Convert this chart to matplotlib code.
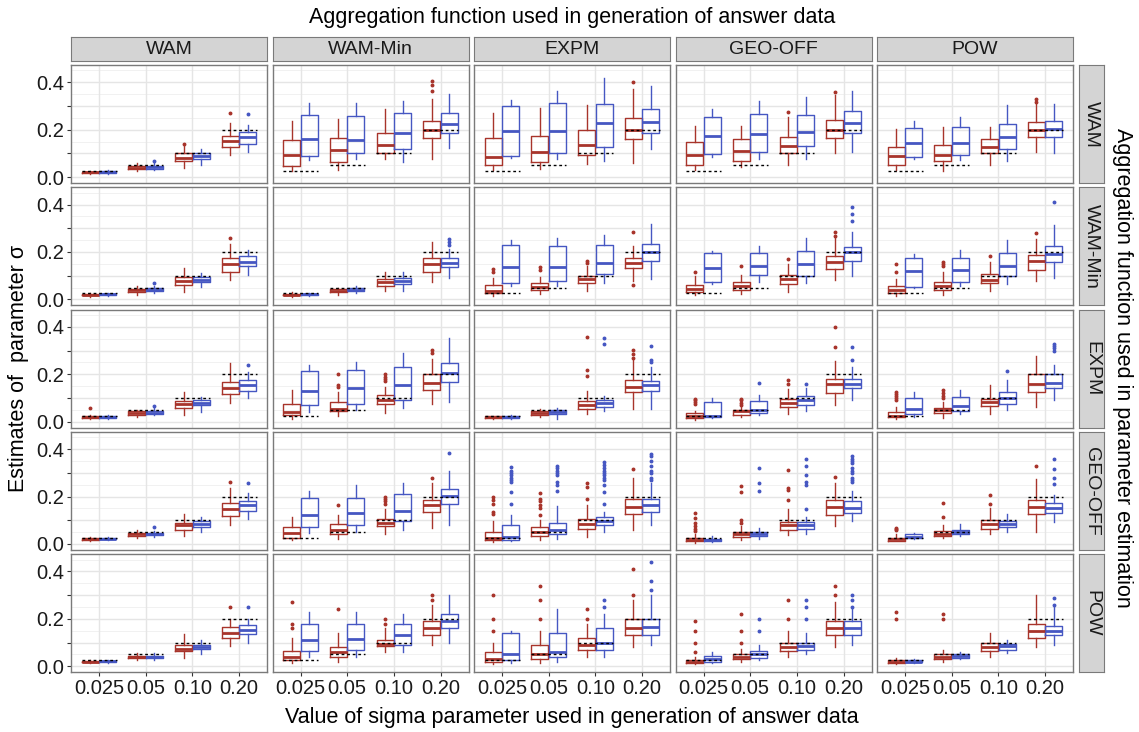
import matplotlib
matplotlib.use("Agg")
import matplotlib.pyplot as plt

plt.rcParams['font.family'] = ['Liberation Sans', 'DejaVu Sans']

GEN_FUNCS = ["WAM", "WAM-Min", "EXPM", "GEO-OFF", "POW"]
EST_FUNCS = ["WAM", "WAM-Min", "EXPM", "GEO-OFF", "POW"]
SIGMA_LABELS = ["0.025", "0.05", "0.10", "0.20"]
SIGMA_TRUE = [0.025, 0.05, 0.10, 0.20]
Y_TICKS = [0.0, 0.1, 0.2, 0.3, 0.4]
Y_TICK_LABELS = ["0.0", "", "0.2", "", "0.4"]

# box stats per estimation row: [gen col][sigma group] = [whislo, q1, med, q3, whishi]
RED_WAM = [
    [[0.013, 0.017, 0.020, 0.023, 0.027], [0.025, 0.035, 0.040, 0.047, 0.058], [0.037, 0.068, 0.082, 0.100, 0.130], [0.093, 0.125, 0.153, 0.173, 0.230]],
    [[0.025, 0.046, 0.093, 0.156, 0.237], [0.030, 0.065, 0.113, 0.163, 0.244], [0.075, 0.103, 0.135, 0.187, 0.286], [0.075, 0.163, 0.200, 0.238, 0.328]],
    [[0.030, 0.051, 0.085, 0.163, 0.272], [0.032, 0.062, 0.106, 0.175, 0.290], [0.054, 0.092, 0.134, 0.197, 0.304], [0.060, 0.162, 0.200, 0.251, 0.370]],
    [[0.030, 0.051, 0.093, 0.149, 0.217], [0.041, 0.069, 0.111, 0.159, 0.215], [0.049, 0.100, 0.131, 0.168, 0.255], [0.100, 0.163, 0.199, 0.239, 0.346]],
    [[0.030, 0.051, 0.089, 0.128, 0.201], [0.027, 0.068, 0.092, 0.134, 0.210], [0.049, 0.100, 0.125, 0.159, 0.213], [0.107, 0.170, 0.199, 0.231, 0.311]],
]
BLUE_WAM = [
    [[0.015, 0.018, 0.021, 0.024, 0.028], [0.028, 0.035, 0.041, 0.047, 0.060], [0.050, 0.075, 0.088, 0.100, 0.120], [0.104, 0.139, 0.168, 0.189, 0.220]],
    [[0.072, 0.089, 0.160, 0.262, 0.311], [0.075, 0.100, 0.155, 0.258, 0.311], [0.065, 0.117, 0.185, 0.269, 0.323], [0.121, 0.185, 0.224, 0.272, 0.351]],
    [[0.079, 0.090, 0.196, 0.300, 0.325], [0.076, 0.100, 0.196, 0.311, 0.363], [0.069, 0.125, 0.228, 0.308, 0.417], [0.117, 0.186, 0.234, 0.289, 0.385]],
    [[0.083, 0.096, 0.173, 0.255, 0.286], [0.077, 0.104, 0.180, 0.266, 0.320], [0.077, 0.132, 0.189, 0.262, 0.340], [0.104, 0.187, 0.228, 0.279, 0.363]],
    [[0.075, 0.083, 0.145, 0.206, 0.237], [0.072, 0.093, 0.142, 0.213, 0.252], [0.068, 0.117, 0.170, 0.223, 0.304], [0.103, 0.169, 0.203, 0.235, 0.307]],
]
OUT_RED_WAM = {(0, 2): [0.14], (0, 3): [0.27], (1, 3): [0.365, 0.387, 0.404], (2, 3): [0.403],
               (3, 2): [0.273], (3, 3): [0.358], (4, 3): [0.318, 0.328]}
OUT_BLUE_WAM = {(0, 1): [0.068], (0, 3): [0.266]}

RED_WAMMIN = [
    [[0.012, 0.017, 0.020, 0.023, 0.027], [0.020, 0.032, 0.038, 0.045, 0.055], [0.030, 0.061, 0.077, 0.093, 0.131], [0.082, 0.114, 0.148, 0.173, 0.234]],
    [[0.010, 0.017, 0.020, 0.023, 0.030], [0.018, 0.030, 0.037, 0.043, 0.050], [0.034, 0.058, 0.075, 0.086, 0.114], [0.072, 0.117, 0.148, 0.173, 0.241]],
    [[0.015, 0.027, 0.037, 0.061, 0.089], [0.023, 0.041, 0.051, 0.069, 0.093], [0.037, 0.069, 0.086, 0.100, 0.142], [0.079, 0.131, 0.154, 0.176, 0.227]],
    [[0.018, 0.030, 0.044, 0.061, 0.100], [0.023, 0.041, 0.058, 0.075, 0.103], [0.032, 0.065, 0.086, 0.104, 0.149], [0.082, 0.128, 0.159, 0.185, 0.262]],
    [[0.015, 0.027, 0.041, 0.058, 0.086], [0.020, 0.041, 0.058, 0.072, 0.114], [0.037, 0.069, 0.083, 0.107, 0.156], [0.076, 0.125, 0.161, 0.187, 0.255]],
]
BLUE_WAMMIN = [
    [[0.014, 0.018, 0.021, 0.024, 0.028], [0.028, 0.035, 0.040, 0.046, 0.058], [0.051, 0.072, 0.083, 0.096, 0.111], [0.103, 0.139, 0.159, 0.185, 0.208]],
    [[0.013, 0.018, 0.021, 0.024, 0.029], [0.025, 0.035, 0.040, 0.046, 0.055], [0.037, 0.065, 0.077, 0.090, 0.114], [0.089, 0.135, 0.154, 0.173, 0.213]],
    [[0.055, 0.069, 0.135, 0.230, 0.252], [0.055, 0.076, 0.138, 0.227, 0.258], [0.069, 0.106, 0.152, 0.231, 0.273], [0.086, 0.163, 0.200, 0.235, 0.318]],
    [[0.065, 0.072, 0.131, 0.194, 0.206], [0.075, 0.104, 0.139, 0.196, 0.224], [0.069, 0.100, 0.148, 0.203, 0.258], [0.100, 0.163, 0.199, 0.220, 0.283]],
    [[0.046, 0.051, 0.120, 0.173, 0.192], [0.055, 0.072, 0.123, 0.173, 0.210], [0.063, 0.097, 0.142, 0.194, 0.252], [0.089, 0.156, 0.192, 0.227, 0.315]],
]
OUT_RED_WAMMIN = {(0, 3): [0.258], (2, 0): [0.117, 0.128], (2, 1): [0.125, 0.135], (2, 2): [0.152, 0.161],
                  (2, 3): [0.061, 0.283], (3, 0): [0.114], (3, 1): [0.142], (3, 2): [0.17], (3, 3): [0.269, 0.286],
                  (4, 0): [0.117, 0.149], (4, 1): [0.142, 0.149, 0.156], (4, 2): [0.182], (4, 3): [0.28]}
OUT_BLUE_WAMMIN = {(0, 1): [0.068], (1, 3): [0.23, 0.241, 0.255], (3, 3): [0.332, 0.361, 0.389], (4, 3): [0.413]}

RED_EXPM = [
    [[0.010, 0.015, 0.018, 0.022, 0.030], [0.020, 0.030, 0.037, 0.043, 0.050], [0.030, 0.059, 0.076, 0.087, 0.125], [0.080, 0.115, 0.141, 0.169, 0.248]],
    [[0.013, 0.027, 0.041, 0.073, 0.135], [0.023, 0.045, 0.055, 0.083, 0.125], [0.037, 0.076, 0.090, 0.111, 0.146], [0.073, 0.135, 0.165, 0.200, 0.266]],
    [[0.010, 0.016, 0.019, 0.022, 0.025], [0.020, 0.030, 0.037, 0.045, 0.055], [0.034, 0.055, 0.072, 0.086, 0.130], [0.055, 0.125, 0.146, 0.177, 0.259]],
    [[0.006, 0.017, 0.023, 0.037, 0.045], [0.020, 0.030, 0.044, 0.051, 0.060], [0.034, 0.062, 0.080, 0.097, 0.139], [0.069, 0.121, 0.158, 0.182, 0.256]],
    [[0.013, 0.020, 0.024, 0.041, 0.062], [0.017, 0.037, 0.048, 0.059, 0.083], [0.034, 0.065, 0.083, 0.097, 0.156], [0.062, 0.125, 0.158, 0.200, 0.276]],
]
BLUE_EXPM = [
    [[0.012, 0.017, 0.020, 0.023, 0.027], [0.027, 0.032, 0.038, 0.045, 0.060], [0.041, 0.069, 0.080, 0.090, 0.104], [0.100, 0.130, 0.155, 0.175, 0.210]],
    [[0.041, 0.069, 0.128, 0.214, 0.238], [0.048, 0.073, 0.141, 0.217, 0.252], [0.058, 0.093, 0.155, 0.231, 0.290], [0.083, 0.166, 0.204, 0.248, 0.355]],
    [[0.012, 0.017, 0.020, 0.023, 0.030], [0.013, 0.031, 0.041, 0.048, 0.059], [0.045, 0.062, 0.079, 0.090, 0.107], [0.055, 0.131, 0.154, 0.172, 0.231]],
    [[0.015, 0.020, 0.023, 0.083, 0.100], [0.027, 0.037, 0.051, 0.087, 0.111], [0.044, 0.072, 0.090, 0.108, 0.142], [0.093, 0.142, 0.158, 0.182, 0.231]],
    [[0.020, 0.031, 0.055, 0.100, 0.125], [0.034, 0.045, 0.066, 0.104, 0.135], [0.048, 0.076, 0.100, 0.125, 0.175], [0.093, 0.142, 0.163, 0.200, 0.238]],
]
OUT_RED_EXPM = {(0, 0): [0.058], (1, 1): [0.146, 0.154, 0.203], (1, 2): [0.17, 0.18, 0.19, 0.2], (1, 3): [0.29, 0.304],
                (2, 2): [0.192, 0.22, 0.358], (2, 3): [0.27, 0.285, 0.301], (3, 0): [0.076, 0.083, 0.09, 0.097],
                (3, 1): [0.07, 0.08, 0.09, 0.097], (3, 2): [0.158, 0.177], (3, 3): [0.315, 0.4],
                (4, 0): [0.09, 0.1, 0.11, 0.118, 0.125], (4, 1): [0.1, 0.11, 0.12, 0.132]}
OUT_BLUE_EXPM = {(0, 1): [0.065], (0, 3): [0.238], (2, 2): [0.327, 0.354], (2, 3): [0.252, 0.262, 0.321],
                 (3, 1): [0.165], (3, 2): [0.161], (3, 3): [0.259, 0.314], (4, 2): [0.214], (4, 3): [0.3, 0.31, 0.32, 0.327]}

RED_GEOOFF = [
    [[0.012, 0.017, 0.020, 0.024, 0.030], [0.025, 0.035, 0.040, 0.047, 0.058], [0.033, 0.061, 0.079, 0.089, 0.128], [0.082, 0.117, 0.146, 0.171, 0.237]],
    [[0.018, 0.025, 0.045, 0.072, 0.113], [0.021, 0.042, 0.061, 0.086, 0.124], [0.042, 0.075, 0.089, 0.107, 0.146], [0.068, 0.136, 0.163, 0.185, 0.259]],
    [[0.008, 0.018, 0.025, 0.051, 0.099], [0.018, 0.033, 0.051, 0.072, 0.103], [0.028, 0.065, 0.086, 0.107, 0.164], [0.057, 0.127, 0.156, 0.191, 0.280]],
    [[0.006, 0.011, 0.018, 0.025, 0.040], [0.018, 0.028, 0.040, 0.049, 0.075], [0.037, 0.061, 0.079, 0.093, 0.146], [0.075, 0.122, 0.156, 0.187, 0.259]],
    [[0.011, 0.014, 0.021, 0.025, 0.040], [0.025, 0.033, 0.042, 0.054, 0.082], [0.040, 0.064, 0.085, 0.100, 0.153], [0.051, 0.127, 0.156, 0.184, 0.273]],
]
BLUE_GEOOFF = [
    [[0.015, 0.019, 0.022, 0.025, 0.030], [0.030, 0.037, 0.042, 0.047, 0.055], [0.051, 0.071, 0.086, 0.096, 0.113], [0.106, 0.139, 0.163, 0.181, 0.216]],
    [[0.047, 0.071, 0.122, 0.195, 0.223], [0.051, 0.078, 0.130, 0.195, 0.247], [0.057, 0.096, 0.140, 0.212, 0.259], [0.082, 0.167, 0.202, 0.233, 0.308]],
    [[0.014, 0.018, 0.028, 0.079, 0.124], [0.023, 0.040, 0.061, 0.089, 0.160], [0.051, 0.079, 0.096, 0.113, 0.136], [0.082, 0.136, 0.163, 0.188, 0.259]],
    [[0.008, 0.011, 0.017, 0.023, 0.033], [0.023, 0.033, 0.042, 0.049, 0.068], [0.040, 0.065, 0.082, 0.092, 0.113], [0.096, 0.131, 0.153, 0.181, 0.223]],
    [[0.021, 0.025, 0.031, 0.042, 0.047], [0.033, 0.040, 0.051, 0.061, 0.085], [0.051, 0.071, 0.085, 0.099, 0.127], [0.093, 0.131, 0.153, 0.172, 0.206]],
]
OUT_RED_GEOOFF = {(0, 3): [0.261], (1, 1): [0.164], (1, 2): [0.17, 0.18, 0.19, 0.2], (1, 3): [0.277],
                  (2, 0): [0.125, 0.135, 0.17, 0.185, 0.198], (2, 1): [0.124, 0.15, 0.165, 0.18, 0.19, 0.216],
                  (2, 2): [0.188, 0.24, 0.259], (2, 3): [0.315], (3, 0): [0.055, 0.065, 0.075, 0.09, 0.11, 0.13],
                  (3, 1): [0.09, 0.1, 0.22, 0.245], (3, 2): [0.184, 0.226, 0.237, 0.311], (3, 3): [0.284],
                  (4, 0): [0.057, 0.062, 0.068], (4, 1): [0.114, 0.174], (4, 2): [0.167, 0.206], (4, 3): [0.329]}
OUT_BLUE_GEOOFF = {(0, 1): [0.072], (0, 3): [0.259], (1, 3): [0.384],
                   (2, 0): [0.17, 0.22, 0.26, 0.27, 0.28, 0.29, 0.3, 0.31, 0.325],
                   (2, 1): [0.225, 0.25, 0.26, 0.29, 0.3, 0.31, 0.32, 0.33],
                   (2, 2): [0.17, 0.22, 0.25, 0.27, 0.28, 0.29, 0.30, 0.31, 0.32, 0.335, 0.345],
                   (2, 3): [0.27, 0.28, 0.3, 0.31, 0.33, 0.35, 0.37, 0.38],
                   (3, 1): [0.223, 0.259, 0.322], (3, 2): [0.146, 0.25, 0.26, 0.29, 0.33, 0.357],
                   (3, 3): [0.26, 0.27, 0.28, 0.3, 0.31, 0.32, 0.34, 0.35, 0.36, 0.37],
                   (4, 3): [0.252, 0.28, 0.315, 0.357]}

RED_POW = [
    [[0.012, 0.016, 0.019, 0.022, 0.028], [0.025, 0.033, 0.038, 0.044, 0.055], [0.035, 0.065, 0.075, 0.090, 0.135], [0.085, 0.120, 0.140, 0.165, 0.200]],
    [[0.015, 0.025, 0.040, 0.065, 0.120], [0.020, 0.040, 0.060, 0.080, 0.140], [0.060, 0.085, 0.095, 0.110, 0.160], [0.090, 0.130, 0.160, 0.190, 0.260]],
    [[0.010, 0.020, 0.030, 0.060, 0.100], [0.015, 0.030, 0.050, 0.090, 0.150], [0.040, 0.070, 0.090, 0.120, 0.180], [0.080, 0.130, 0.160, 0.200, 0.280]],
    [[0.008, 0.015, 0.020, 0.025, 0.040], [0.020, 0.030, 0.040, 0.050, 0.075], [0.040, 0.065, 0.080, 0.100, 0.150], [0.080, 0.130, 0.160, 0.190, 0.270]],
    [[0.010, 0.015, 0.020, 0.025, 0.035], [0.020, 0.030, 0.040, 0.050, 0.070], [0.040, 0.065, 0.080, 0.100, 0.140], [0.080, 0.120, 0.150, 0.180, 0.300]],
]
BLUE_POW = [
    [[0.014, 0.018, 0.021, 0.024, 0.028], [0.028, 0.035, 0.040, 0.045, 0.055], [0.050, 0.072, 0.082, 0.090, 0.110], [0.100, 0.135, 0.155, 0.175, 0.200]],
    [[0.040, 0.065, 0.110, 0.180, 0.230], [0.040, 0.070, 0.115, 0.180, 0.230], [0.060, 0.090, 0.130, 0.180, 0.220], [0.100, 0.160, 0.190, 0.220, 0.300]],
    [[0.015, 0.025, 0.050, 0.140, 0.150], [0.020, 0.040, 0.060, 0.140, 0.240], [0.040, 0.070, 0.100, 0.160, 0.220], [0.090, 0.130, 0.165, 0.200, 0.300]],
    [[0.015, 0.020, 0.030, 0.045, 0.060], [0.025, 0.035, 0.050, 0.065, 0.090], [0.050, 0.070, 0.085, 0.100, 0.140], [0.090, 0.130, 0.160, 0.190, 0.240]],
    [[0.012, 0.017, 0.020, 0.025, 0.030], [0.030, 0.035, 0.042, 0.050, 0.060], [0.055, 0.070, 0.085, 0.095, 0.110], [0.090, 0.130, 0.150, 0.170, 0.250]],
]
OUT_RED_POW = {(0, 3): [0.25], (1, 0): [0.16, 0.18, 0.27], (1, 1): [0.24], (1, 2): [0.18, 0.2],
               (1, 3): [0.28, 0.3], (2, 0): [0.15, 0.2, 0.3], (2, 1): [0.2, 0.28, 0.34],
               (2, 2): [0.2, 0.24], (2, 3): [0.3, 0.41], (3, 0): [0.06, 0.1, 0.15, 0.19],
               (3, 1): [0.1, 0.15, 0.22], (3, 2): [0.2, 0.28], (3, 3): [0.3, 0.34],
               (4, 0): [0.2, 0.23], (4, 1): [0.2, 0.22]}
OUT_BLUE_POW = {(0, 3): [0.25], (2, 2): [0.25, 0.28], (2, 3): [0.32, 0.36, 0.44],
                (3, 1): [0.15, 0.2], (3, 2): [0.2, 0.25, 0.28], (3, 3): [0.25, 0.28, 0.3],
                (4, 3): [0.26, 0.29]}

RED_STATS = [RED_WAM, RED_WAMMIN, RED_EXPM, RED_GEOOFF, RED_POW]
BLUE_STATS = [BLUE_WAM, BLUE_WAMMIN, BLUE_EXPM, BLUE_GEOOFF, BLUE_POW]
RED_OUT = [OUT_RED_WAM, OUT_RED_WAMMIN, OUT_RED_EXPM, OUT_RED_GEOOFF, OUT_RED_POW]
BLUE_OUT = [OUT_BLUE_WAM, OUT_BLUE_WAMMIN, OUT_BLUE_EXPM, OUT_BLUE_GEOOFF, OUT_BLUE_POW]

RED = "#A8342B"
BLUE = "#4657C2"
W, H = 1139, 732
fig = plt.figure(figsize=(W / 100, H / 100), dpi=100)


def rect(x0, y0, w, h):
    return [x0 / W, 1 - (y0 + h) / H, w / W, h / H]


COL_X = [71 + 201.5 * c for c in range(5)]
ROW_Y = [65 + 122.3 * r for r in range(5)]
PW, PH = 196, 118
BOXW = 0.375


def stats_list(arr, outs, col):
    res = []
    for g, s in enumerate(arr[col]):
        res.append(dict(whislo=s[0], q1=s[1], med=s[2], q3=s[3], whishi=s[4],
                        fliers=outs.get((col, g), [])))
    return res


for r in range(5):
    for c in range(5):
        ax = fig.add_axes(rect(COL_X[c], ROW_Y[r], PW, PH))
        ax.set_xlim(0.4, 4.6)
        ax.set_ylim(-0.025, 0.473)
        ax.set_facecolor("white")
        for y in [0.05, 0.15, 0.25, 0.35, 0.45]:
            ax.axhline(y, color="#EFEFEF", lw=0.6, zorder=0)
        for y in Y_TICKS:
            ax.axhline(y, color="#E5E5E5", lw=1.0, zorder=0)
        for x in range(1, 5):
            ax.axvline(x, color="#E5E5E5", lw=1.0, zorder=0)
        pos = list(range(1, 5))
        for stats, outs, col, off in [(RED_STATS[r], RED_OUT[r], RED, -BOXW / 2),
                                      (BLUE_STATS[r], BLUE_OUT[r], BLUE, BOXW / 2)]:
            ax.bxp(stats_list(stats, outs, c), positions=[p + off for p in pos],
                   widths=BOXW * 0.98, showcaps=False, showfliers=True, patch_artist=False,
                   boxprops=dict(color=col, lw=1.0),
                   whiskerprops=dict(color=col, lw=1.0),
                   medianprops=dict(color=col, lw=2.0, solid_capstyle="butt"),
                   flierprops=dict(marker="o", markersize=1.8, markerfacecolor=col,
                                   markeredgecolor=col, linestyle="none"),
                   manage_ticks=False, zorder=3)
        for g, sv in enumerate(SIGMA_TRUE):
            ax.plot([g + 1 - BOXW, g + 1 + BOXW], [sv, sv], color="black", lw=1.0,
                    linestyle=(0, (2, 2)), zorder=4)
        ax.set_yticks(Y_TICKS)
        ax.set_xticks(pos)
        ax.tick_params(axis="both", length=3, color="#333333", width=0.8,
                       labelsize=14.5, labelcolor="#1a1a1a", pad=2)
        if c == 0:
            ax.set_yticklabels(Y_TICK_LABELS)
        else:
            ax.tick_params(axis="y", length=0, labelleft=False)
        if r == 4:
            ax.set_xticklabels(SIGMA_LABELS)
        else:
            ax.tick_params(axis="x", length=0, labelbottom=False)
        for sp in ax.spines.values():
            sp.set_color("#7A7A7A")
            sp.set_linewidth(1.0)

        if r == 0:
            sax = fig.add_axes(rect(COL_X[c], 37, PW, 24))
            sax.set_xticks([]); sax.set_yticks([])
            sax.set_facecolor("#D4D4D4")
            for sp in sax.spines.values():
                sp.set_color("#7A7A7A")
            sax.text(0.5, 0.5, GEN_FUNCS[c], ha="center", va="center", fontsize=14,
                     color="#1a1a1a", transform=sax.transAxes)
        if c == 4:
            sax = fig.add_axes(rect(1079, ROW_Y[r], 25, PH))
            sax.set_xticks([]); sax.set_yticks([])
            sax.set_facecolor("#D4D4D4")
            for sp in sax.spines.values():
                sp.set_color("#7A7A7A")
            sax.text(0.5, 0.5, EST_FUNCS[r], ha="center", va="center", fontsize=14,
                     color="#1a1a1a", rotation=-90, transform=sax.transAxes)

fig.text(572 / W, 1 - 18 / H, "Aggregation function used in generation of answer data",
         ha="center", va="center", fontsize=15.5, color="black")
fig.text(572 / W, 1 - 717 / H, "Value of sigma parameter used in generation of answer data",
         ha="center", va="center", fontsize=15.5, color="black")
fig.text(19 / W, 1 - 368 / H, "Estimates of  parameter σ", ha="center", va="center",
         rotation=90, fontsize=15.5, color="black")
fig.text(1123 / W, 1 - 368 / H, "Aggregation function used in parameter estimation",
         ha="center", va="center", rotation=-90, fontsize=15.5, color="black")

fig.savefig("out.png", dpi=100, facecolor="white")
